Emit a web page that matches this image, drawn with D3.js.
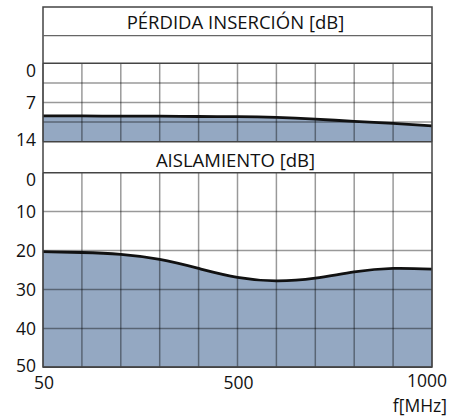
<!DOCTYPE html>
<html>
<head>
<meta charset="utf-8">
<script src="https://cdn.jsdelivr.net/npm/d3@7"></script>
<style>
  body { margin: 0; background: #fff; }
  text { font-family: 'Open Sans', sans-serif; fill: #111; }
</style>
</head>
<body>
<svg id="chart" width="451" height="416"></svg>
<script>
// frequency of each grid column (axis is 50..500 on first half, 500..1000 on second)
var freqs = [50, 140, 230, 320, 410, 500, 600, 700, 800, 900, 1000];
var xTickLabels = [50, 500, 1000];

// insertion loss [dB]
var lossTitle = 'PÉRDIDA INSERCIÓN [dB]';
var lossValues = [9.38, 9.4, 9.43, 9.45, 9.5, 9.53, 9.66, 9.96, 10.37, 10.73, 11.16];
var lossGrid = [0, 3.5, 7, 10.5, 14];
var lossLabels = [0, 7, 14];

// isolation [dB]
var isoTitle = 'AISLAMIENTO [dB]';
var isoValues = [20.3, 20.5, 21.0, 22.3, 24.6, 26.9, 27.8, 27.1, 25.5, 24.6, 24.8];
var isoGrid = [0, 10, 20, 30, 40, 50];
var isoLabels = [0, 10, 20, 30, 40, 50];

var svg = d3.select('#chart');

var mLeft = 43, mRight = 432, mTop = 7, mBottom = 367;

var x = d3.scaleLinear().domain([50, 500, 1000]).range([mLeft, (mLeft + mRight) / 2, mRight]);

var panels = [
  { title: lossTitle, values: lossValues, grid: lossGrid, labels: lossLabels,
    y: d3.scaleLinear().domain([0, 14]).range([63.3, 141.7]), titleY: 29 },
  { title: isoTitle, values: isoValues, grid: isoGrid, labels: isoLabels,
    y: d3.scaleLinear().domain([0, 50]).range([172.7, 367.3]), titleY: 167 }
];

panels.forEach(function(p) {
  var y = p.y;
  var y0 = y.range()[0], y1 = y.range()[1];
  var dom = y.domain();

  var area = d3.area()
    .x(function(d, i) { return x(freqs[i]); })
    .y0(y(dom[1]))
    .y1(function(d) { return y(d); })
    .curve(d3.curveNatural);

  var line = d3.line()
    .x(function(d, i) { return x(freqs[i]); })
    .y(function(d) { return y(d); })
    .curve(d3.curveNatural);

  svg.append('path')
    .datum(p.values)
    .attr('d', area)
    .attr('fill', '#94a8c2');

  // grid
  svg.append('g').selectAll('line.v').data(freqs).enter()
    .append('line')
    .attr('x1', function(d) { return x(d); })
    .attr('x2', function(d) { return x(d); })
    .attr('y1', y0).attr('y2', y1)
    .attr('stroke', 'rgba(0,0,0,0.4)')
    .attr('stroke-width', 1.5);

  svg.append('g').selectAll('line.h').data(p.grid).enter()
    .append('line')
    .attr('x1', mLeft).attr('x2', mRight)
    .attr('y1', function(d) { return y(d); })
    .attr('y2', function(d) { return y(d); })
    .attr('stroke', function(d, i) { return (i == 0 || i == p.grid.length - 1) ? '#444' : 'rgba(0,0,0,0.4)'; })
    .attr('stroke-width', 1.5);

  svg.append('path')
    .datum(p.values)
    .attr('d', line)
    .attr('fill', 'none')
    .attr('stroke', '#111')
    .attr('stroke-width', 2.8);

  // y labels
  svg.append('g').selectAll('text').data(p.labels).enter()
    .append('text')
    .attr('x', 36)
    .attr('y', function(d) { return Math.max(y0 + 7, Math.min(y1 - 2, y(d))); })
    .attr('dy', '0.36em')
    .style('text-anchor', 'end')
    .style('font-size', '17.5px')
    .text(function(d) { return d; });

  svg.append('text')
    .attr('x', (mLeft + mRight) / 2 - 2)
    .attr('y', p.titleY)
    .style('text-anchor', 'middle')
    .style('font-size', '18.5px')
    .text(p.title);
});

// frame
svg.append('rect')
  .attr('x', mLeft).attr('y', mTop)
  .attr('width', mRight - mLeft).attr('height', mBottom - mTop)
  .attr('fill', 'none')
  .attr('stroke', '#444')
  .attr('stroke-width', 1.5);

svg.append('line')
  .attr('x1', mLeft).attr('x2', mRight)
  .attr('y1', 35.7).attr('y2', 35.7)
  .attr('stroke', '#666').attr('stroke-width', 1.2);

// x labels
svg.append('g').selectAll('text').data(xTickLabels).enter()
  .append('text')
  .attr('x', function(d, i) { return i == xTickLabels.length - 1 ? x(d) + 15 : x(d) + 1; })
  .attr('y', function(d, i) { return i == xTickLabels.length - 1 ? 387 : 389; })
  .style('text-anchor', function(d, i) { return i == xTickLabels.length - 1 ? 'end' : 'middle'; })
  .style('font-size', '17.5px')
  .text(function(d) { return d; });

svg.append('text')
  .attr('x', 447).attr('y', 412)
  .style('text-anchor', 'end')
  .style('font-size', '17.5px')
  .text('f[MHz]');
</script>
</body>
</html>
